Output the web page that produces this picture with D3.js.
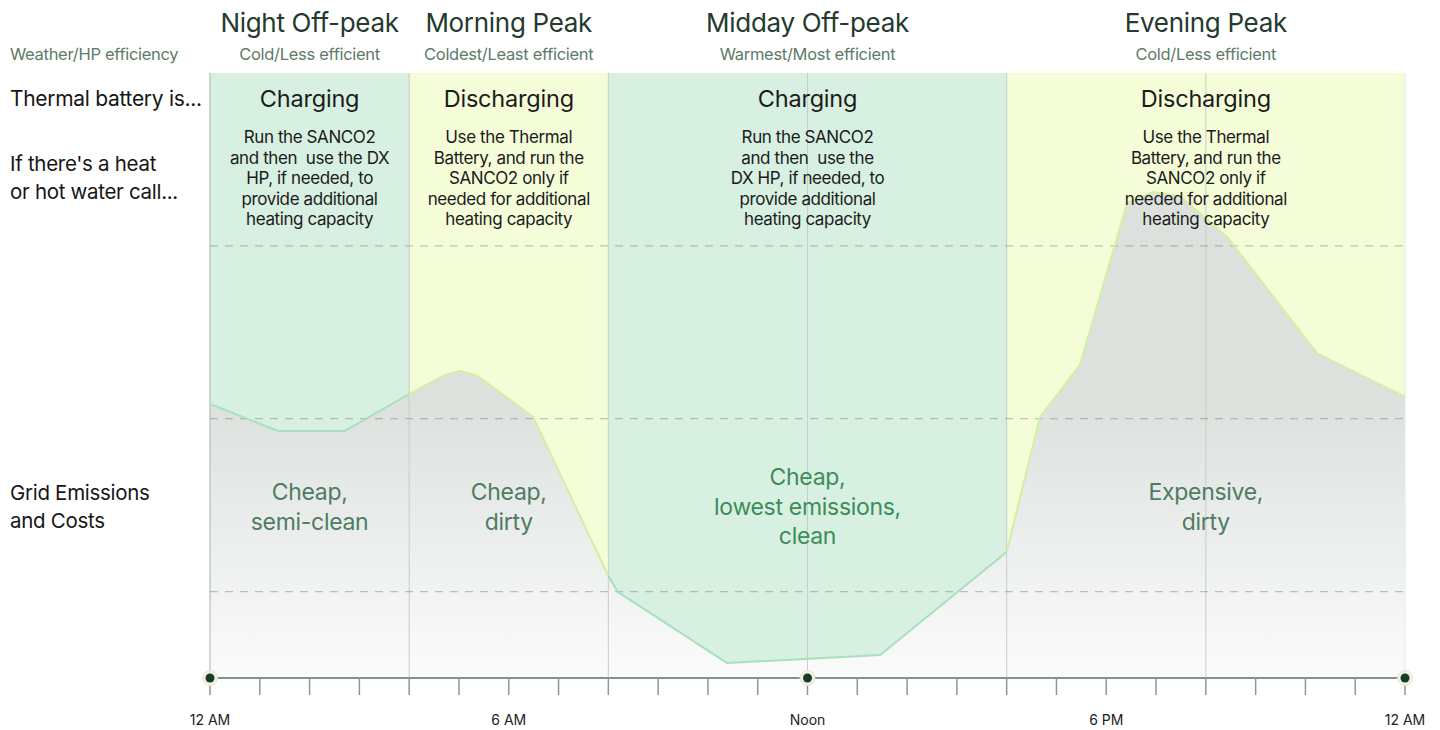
<!DOCTYPE html>
<html>
<head>
<meta charset="utf-8">
<script src="https://cdn.jsdelivr.net/npm/d3@7"></script>
<style>
  body { margin: 0; background: #fff; }
  svg { display: block; font-family: Inter, "Noto Sans", sans-serif; }
</style>
</head>
<body>
<svg id="chart"></svg>
<script>
// periods of the day
const periodNames = ["Night Off-peak", "Morning Peak", "Midday Off-peak", "Evening Peak"];
const periodStart = [0, 4, 8, 16];
const periodEnd = [4, 8, 16, 24];
const weatherText = ["Cold/Less efficient", "Coldest/Least efficient", "Warmest/Most efficient", "Cold/Less efficient"];
const batteryState = ["Charging", "Discharging", "Charging", "Discharging"];
const actionLines = [
  ["Run the SANCO2", "and then  use the DX", "HP, if needed, to", "provide additional", "heating capacity"],
  ["Use the Thermal", "Battery, and run the", "SANCO2 only if", "needed for additional", "heating capacity"],
  ["Run the SANCO2", "and then  use the", "DX HP, if needed, to", "provide additional", "heating capacity"],
  ["Use the Thermal", "Battery, and run the", "SANCO2 only if", "needed for additional", "heating capacity"]
];
const costLines = [
  ["Cheap,", "semi-clean"],
  ["Cheap,", "dirty"],
  ["Cheap,", "lowest emissions,", "clean"],
  ["Expensive,", "dirty"]
];

// grid emissions curve (hour of day, relative emissions)
const hours     = [0, 1.37, 2.71, 4.0, 4.72, 5.02, 5.38, 6.49, 7.99, 8.19, 10.38, 13.46, 16.0, 16.67, 17.47, 18.42, 18.94, 19.48, 20.43, 22.23, 24];
const emissions = [158.5, 142.9, 142.9, 164.3, 175.3, 177.6, 174.7, 151.0, 59.6, 49.8, 8.7, 13.3, 72.9, 151.0, 181.1, 274.8, 281.2, 278.8, 255.1, 188.0, 162.6];

const gridValues = [50, 150, 250];
const vLineHours = [4, 8, 12, 16, 20];
const labelHours = [0, 6, 12, 18, 24];
const labelTexts = ["12 AM", "6 AM", "Noon", "6 PM", "12 AM"];
const dotHours = [0, 12, 24];

const width = 1440, height = 730;
const margin = {top: 73, right: 35, bottom: 52, left: 210};

const svg = d3.select("#chart").attr("width", width).attr("height", height);

const x = d3.scaleLinear().domain([0, 24]).range([margin.left, width - margin.right]);
const y = d3.scaleLinear().domain([0, 350]).range([height - margin.bottom, margin.top]);

const bandFill = s => s === "Charging" ? "#d8f0e1" : "#f4fdd7";
const lineColor = s => s === "Charging" ? "#a6e1bb" : "#d3efa3";

const defs = svg.append("defs");
const grad = defs.append("linearGradient")
  .attr("id", "grayGrad")
  .attr("gradientUnits", "userSpaceOnUse")
  .attr("x1", 0).attr("x2", 0)
  .attr("y1", 400).attr("y2", y(0));
grad.append("stop").attr("offset", 0).attr("stop-color", "#dce1de");
grad.append("stop").attr("offset", 1).attr("stop-color", "#fbfbfb");

periodNames.forEach((p, i) => {
  defs.append("clipPath").attr("id", "clip" + i)
    .append("rect")
    .attr("x", x(periodStart[i])).attr("y", 0)
    .attr("width", x(periodEnd[i]) - x(periodStart[i]))
    .attr("height", height);
});

// bands
svg.append("g").selectAll("rect")
  .data(periodNames)
  .join("rect")
  .attr("x", (d, i) => x(periodStart[i]))
  .attr("y", y(350))
  .attr("width", (d, i) => x(periodEnd[i]) - x(periodStart[i]))
  .attr("height", y(0) - y(350))
  .attr("fill", (d, i) => bandFill(batteryState[i]));

const pts = hours.map((h, i) => [h, emissions[i]]);

const area = d3.area()
  .x(d => x(d[0]))
  .y0(y(0))
  .y1(d => y(d[1]))
  .curve(d3.curveLinear);

const line = d3.line()
  .x(d => x(d[0]))
  .y(d => y(d[1]))
  .curve(d3.curveLinear);

svg.append("path")
  .datum(pts)
  .attr("d", area)
  .attr("fill", "url(#grayGrad)");

// vertical lines
svg.append("g").selectAll("line")
  .data(vLineHours)
  .join("line")
  .attr("x1", d => x(d)).attr("x2", d => x(d))
  .attr("y1", y(350)).attr("y2", y(0))
  .attr("stroke", "#c3cfc8")
  .attr("stroke-width", 1);

svg.append("line")
  .attr("x1", x(0)).attr("x2", x(0))
  .attr("y1", y(350)).attr("y2", y(0))
  .attr("stroke", "#a9b5ae");
svg.append("line")
  .attr("x1", x(24)).attr("x2", x(24))
  .attr("y1", y(350)).attr("y2", y(0))
  .attr("stroke", "#e3ebe6");

// dashed horizontal grid
svg.append("g").selectAll("line")
  .data(gridValues)
  .join("line")
  .attr("x1", x(0)).attr("x2", x(24))
  .attr("y1", d => y(d)).attr("y2", d => y(d))
  .attr("stroke", "#6e8277")
  .attr("stroke-opacity", 0.45)
  .attr("stroke-width", 1.2)
  .attr("stroke-dasharray", "8,7");

// curve outline, coloured per band
periodNames.forEach((p, i) => {
  svg.append("path")
    .datum(pts)
    .attr("d", line)
    .attr("fill", "none")
    .attr("stroke", lineColor(batteryState[i]))
    .attr("stroke-width", 2)
    .attr("stroke-linejoin", "round")
    .attr("clip-path", `url(#clip${i})`);
});

// axis
const axisY = y(0);
svg.append("line")
  .attr("x1", x(0)).attr("x2", x(24))
  .attr("y1", axisY).attr("y2", axisY)
  .attr("stroke", "#7f958a")
  .attr("stroke-width", 2);

svg.append("g").selectAll("line")
  .data(d3.range(0, 25))
  .join("line")
  .attr("x1", d => x(d)).attr("x2", d => x(d))
  .attr("y1", axisY).attr("y2", axisY + 17)
  .attr("stroke", "#8a9b92")
  .attr("stroke-width", 1.5);

svg.append("g").selectAll("text")
  .data(labelHours)
  .join("text")
  .attr("x", d => x(d))
  .attr("y", 725)
  .attr("text-anchor", "middle")
  .attr("font-size", 14)
  .attr("fill", "#222")
  .text((d, i) => labelTexts[i]);

const dots = svg.append("g").selectAll("g")
  .data(dotHours)
  .join("g")
  .attr("transform", d => `translate(${x(d)},${axisY})`);
dots.append("circle").attr("r", 7.5).attr("fill", "#f3f1e2").attr("stroke", "#e2e0cf").attr("stroke-width", 0.8);
dots.append("circle").attr("r", 4.5).attr("fill", "#173d27");

// period headings
const head = svg.append("g").attr("text-anchor", "middle");
periodNames.forEach((p, i) => {
  const cx = x((periodStart[i] + periodEnd[i]) / 2);
  head.append("text")
    .attr("x", cx).attr("y", 32)
    .attr("font-size", 26).attr("fill", "#243a2e")
    .attr("letter-spacing", "-0.3")
    .text(p);
  head.append("text")
    .attr("x", cx).attr("y", 60)
    .attr("font-size", 16.5).attr("fill", "#5d7b69")
    .attr("letter-spacing", "-0.3")
    .text(weatherText[i]);
  head.append("text")
    .attr("x", cx).attr("y", 107)
    .attr("font-size", 23.5).attr("fill", "#1b1b1b")
    .attr("letter-spacing", "-0.2")
    .text(batteryState[i]);
  head.append("g").selectAll("text")
    .data(actionLines[i])
    .join("text")
    .attr("x", cx)
    .attr("y", (d, j) => 143 + j * 20.5)
    .attr("font-size", 17).attr("fill", "#1b1b1b")
    .attr("letter-spacing", "-0.4")
    .attr("xml:space", "preserve")
    .style("white-space", "pre")
    .text(d => d);
  const n = costLines[i].length;
  const startY = n === 3 ? 485 : 500;
  head.append("g").selectAll("text")
    .data(costLines[i])
    .join("text")
    .attr("x", cx)
    .attr("y", (d, j) => startY + j * 29.5)
    .attr("font-size", 23)
    .attr("fill", batteryState[i] === "Charging" && n === 3 ? "#3d8c5a" : "#4e7c62")
    .attr("letter-spacing", "-0.3")
    .text(d => d);
});

// row labels at left
const rowLabels = svg.append("g").attr("fill", "#161616").attr("font-size", 20.5).attr("letter-spacing", "-0.3");
rowLabels.append("text").attr("x", 10).attr("y", 60).attr("font-size", 16.5).attr("fill", "#5d7b69").text("Weather/HP efficiency");
rowLabels.append("text").attr("x", 10).attr("y", 106).attr("font-size", 21).text("Thermal battery is...");
rowLabels.append("text").attr("x", 10).attr("y", 171).text("If there's a heat");
rowLabels.append("text").attr("x", 10).attr("y", 199).text("or hot water call...");
rowLabels.append("text").attr("x", 10).attr("y", 500).text("Grid Emissions");
rowLabels.append("text").attr("x", 10).attr("y", 528).text("and Costs");
</script>
</body>
</html>
